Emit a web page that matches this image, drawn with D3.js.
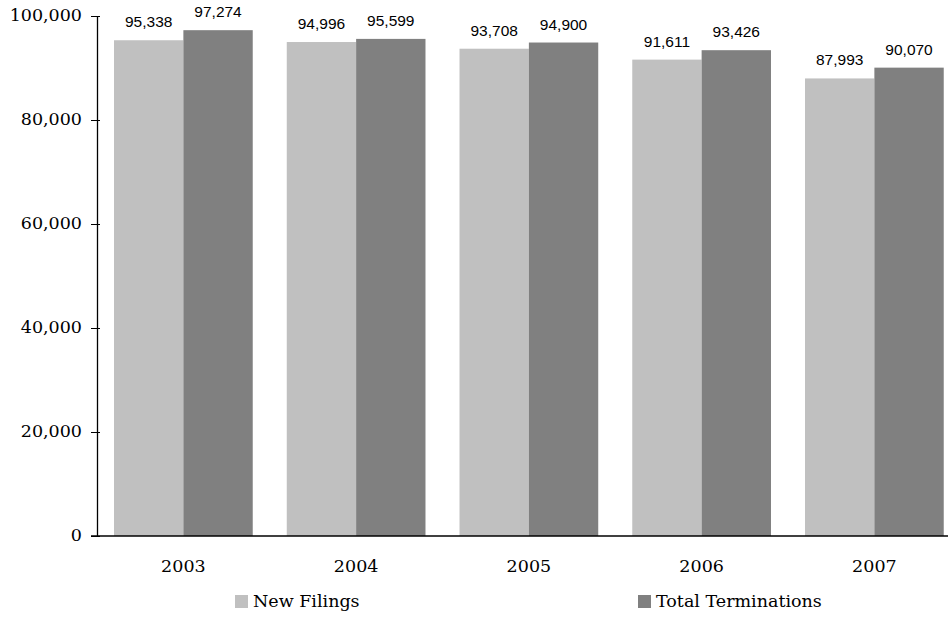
<!DOCTYPE html>
<html>
<head>
<meta charset="utf-8">
<script src="https://cdn.jsdelivr.net/npm/d3@7"></script>
<style>
  body { margin: 0; background: #fff; }
  svg { display: block; }
</style>
</head>
<body>
<div id="container"></div>
<script>
const years = ["2003", "2004", "2005", "2006", "2007"];
const seriesNames = ["New Filings", "Total Terminations"];
const newFilings = [95338, 94996, 93708, 91611, 87993];
const totalTerminations = [97274, 95599, 94900, 93426, 90070];
const yTicks = [0, 20000, 40000, 60000, 80000, 100000];
const colors = ["#c0c0c0", "#808080"];

const width = 948;
const height = 618;
const serif = "'DejaVu Serif', Georgia, serif";

const svg = d3.select("div#container")
    .append("svg")
    .attr("width", width)
    .attr("height", height);

const rows = years.map(function(y, i) {
    return { year: y, values: [newFilings[i], totalTerminations[i]] };
});

const xScale = d3.scaleBand()
    .domain(years)
    .range([97, 960.75])
    .paddingInner(0.197)
    .paddingOuter(0.0985);

const xSub = d3.scaleBand()
    .domain(seriesNames)
    .range([0, xScale.bandwidth()]);

const yScale = d3.scaleLinear()
    .domain([0, 100000])
    .range([536, 16]);

const fmt = d3.format(",");

// bars
const groups = svg.selectAll("g.year")
    .data(rows)
    .enter()
    .append("g")
    .attr("class", "year")
    .attr("transform", function(d) { return "translate(" + xScale(d.year) + ",0)"; });

groups.selectAll("rect")
    .data(function(d) { return d.values.map(function(v, i) { return { name: seriesNames[i], value: v, i: i }; }); })
    .enter()
    .append("rect")
    .attr("x", function(d) { return xSub(d.name); })
    .attr("y", function(d) { return yScale(d.value); })
    .attr("width", xSub.bandwidth())
    .attr("height", function(d) { return yScale(0) - yScale(d.value); })
    .attr("fill", function(d) { return colors[d.i]; });

groups.selectAll("text.val")
    .data(function(d) { return d.values.map(function(v, i) { return { name: seriesNames[i], value: v }; }); })
    .enter()
    .append("text")
    .attr("class", "val")
    .attr("x", function(d) { return xSub(d.name) + xSub.bandwidth() / 2; })
    .attr("y", function(d) { return yScale(d.value) - 13; })
    .attr("text-anchor", "middle")
    .style("font-family", "'Liberation Sans', Arial, sans-serif")
    .style("font-size", "15.5px")
    .style("fill", "#000")
    .text(function(d) { return fmt(d.value); });

// y axis
const yaxis = d3.axisLeft(yScale)
    .tickValues(yTicks)
    .tickFormat(fmt)
    .tickSizeInner(6)
    .tickSizeOuter(0)
    .tickPadding(9);

const gy = svg.append("g")
    .attr("transform", "translate(97,0)")
    .call(yaxis);
gy.select(".domain").attr("stroke", "#000").attr("stroke-width", 1.3);
gy.selectAll(".tick line").attr("x2", -6).attr("x1", 3).attr("stroke", "#000");
gy.selectAll(".tick text")
    .attr("dy", "0.28em")
    .style("font-family", serif)
    .style("font-size", "17.5px")
    .style("fill", "#000");

// x axis
const xaxis = d3.axisBottom(xScale).tickSize(0).tickPadding(24);
const gx = svg.append("g")
    .attr("transform", "translate(0,536)")
    .call(xaxis);
gx.select(".domain").attr("d", "M91,0H948").attr("stroke", "#000").attr("stroke-width", 1.5);
gx.selectAll(".tick text")
    .style("font-family", serif)
    .style("font-size", "17.5px")
    .style("fill", "#000");

// legend
const legendX = [235, 638];
const legend = svg.selectAll("g.legend")
    .data(seriesNames)
    .enter()
    .append("g")
    .attr("class", "legend")
    .attr("transform", function(d, i) { return "translate(" + legendX[i] + ",595)"; });

legend.append("rect")
    .attr("width", 13)
    .attr("height", 13)
    .attr("fill", function(d, i) { return colors[i]; });

legend.append("text")
    .attr("x", 18)
    .attr("y", 12)
    .style("font-family", serif)
    .style("font-size", "17.5px")
    .style("fill", "#000")
    .text(function(d) { return d; });
</script>
</body>
</html>
